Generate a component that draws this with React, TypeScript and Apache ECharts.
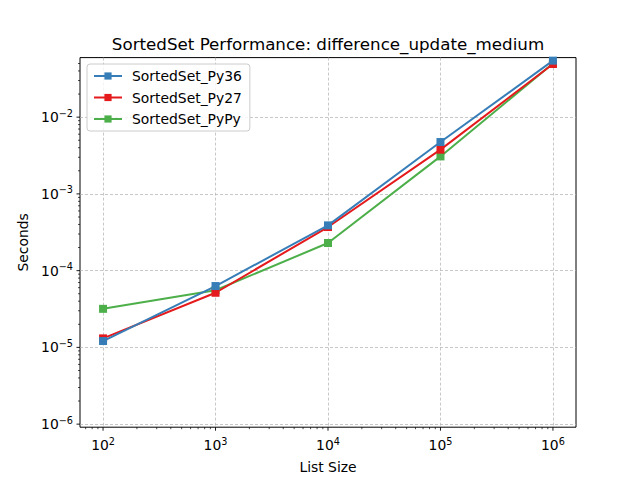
import React, { useEffect, useRef } from "react";
import * as echarts from "echarts";

// list sizes and timings (seconds)
const sizes = [100, 1000, 10000, 100000, 1000000];
const py36 = [1.21e-5, 6.3e-5, 3.89e-4, 4.74e-3, 5.45e-2];
const py27 = [1.31e-5, 5.15e-5, 3.7e-4, 3.77e-3, 4.93e-2];
const pypy = [3.18e-5, 5.55e-5, 2.29e-4, 3.08e-3, 5.0e-2];

const seriesNames = ["SortedSet_Py36", "SortedSet_Py27", "SortedSet_PyPy"];
const colors = ["#377eb8", "#e41a1c", "#4daf4a"];

const X_MIN = Math.pow(10, 1.795);
const X_MAX = Math.pow(10, 6.205);
const Y_MIN = Math.pow(10, -6.04);
const Y_MAX = Math.pow(10, -1.224);

// major decades shown on each axis
const xDecades = [2, 3, 4, 5, 6];
const yDecades = [-6, -5, -4, -3, -2];

const minorTicks = (lo: number, hi: number) => {
  const out: number[] = [];
  for (let e = Math.floor(Math.log10(lo)); e <= Math.ceil(Math.log10(hi)); e++) {
    for (let m = 2; m <= 9; m++) {
      const v = m * Math.pow(10, e);
      if (v >= lo && v <= hi) out.push(v);
    }
  }
  return out;
};

const FONT = "DejaVu Sans";
const GRID_COLOR = "#b0b0b0";
const edgeHidden = "rgba(0,0,0,0)";

const App: React.FC = () => {
  const chartRef = useRef<HTMLDivElement>(null);

  useEffect(() => {
    document.body.style.margin = "0";
    const chart = echarts.init(chartRef.current!, null, { renderer: "svg" });

    const supLabel = (v: number) => {
      const e = Math.round(Math.log10(v));
      return "{b|10}{s|" + String(e).replace("-", "\u2212") + "}";
    };
    const labelRich = {
      b: { fontSize: 13.9, fontFamily: FONT, color: "#000" },
      s: { fontSize: 9.7, fontFamily: FONT, color: "#000", padding: [0, 0, 8, 0] },
    };

    const xTickData = [
      ...xDecades.map((e) => [Math.pow(10, e), Y_MIN, 3.5]),
      ...minorTicks(X_MIN, X_MAX).map((v) => [v, Y_MIN, 2]),
    ];
    const yTickData = [
      ...yDecades.map((e) => [X_MIN, Math.pow(10, e), 3.5]),
      ...minorTicks(Y_MIN, Y_MAX).map((v) => [X_MIN, v, 2]),
    ];

    const gridLineColors = [edgeHidden, GRID_COLOR, GRID_COLOR, GRID_COLOR, GRID_COLOR, GRID_COLOR, edgeHidden];

    const lineSeries = [
      { name: seriesNames[2], data: pypy, color: colors[2] },
      { name: seriesNames[1], data: py27, color: colors[1] },
      { name: seriesNames[0], data: py36, color: colors[0] },
    ].map((s) => ({
      name: s.name,
      type: "line",
      data: sizes.map((x, i) => [x, s.data[i]]),
      symbol: "rect",
      symbolSize: 8,
      color: s.color,
      lineStyle: { width: 2, color: s.color },
      itemStyle: { color: s.color },
      z: 3,
    }));

    const options = {
      animation: false,
      backgroundColor: "#fff",
      textStyle: { fontFamily: FONT },
      title: {
        text: "SortedSet Performance: difference_update_medium",
        left: 323,
        top: 30,
        textAlign: "center",
        textStyle: { fontSize: 16.7, fontWeight: "normal", color: "#000", fontFamily: FONT },
      },
      legend: {
        orient: "vertical",
        left: 87,
        top: 64,
        data: seriesNames,
        itemWidth: 28,
        itemHeight: 9,
        itemGap: 7.5,
        padding: [5, 8, 5, 6],
        backgroundColor: "rgba(255,255,255,0.8)",
        borderColor: "#cccccc",
        borderWidth: 1,
        borderRadius: 3,
        textStyle: { fontSize: 13.9, color: "#000", fontFamily: FONT, padding: [0, 0, 0, 5] },
      },
      grid: {
        left: 80,
        top: 57.6,
        width: 496,
        height: 369.6,
        containLabel: false,
        outerBoundsMode: "none",
        show: true,
        borderColor: "#000",
        borderWidth: 1,
        backgroundColor: "transparent",
      },
      xAxis: {
        type: "log",
        logBase: 10,
        min: X_MIN,
        max: X_MAX,
        name: "List Size",
        nameLocation: "middle",
        nameGap: 33,
        nameTextStyle: { fontSize: 13.9, color: "#000", fontFamily: FONT },
        axisLine: { show: false },
        axisTick: { show: false },
        axisLabel: {
          showMinLabel: false,
          showMaxLabel: false,
          margin: 9,
          formatter: supLabel,
          rich: labelRich,
        },
        splitLine: {
          show: true,
          lineStyle: { color: gridLineColors, width: 0.7, type: [3, 2] },
        },
      },
      yAxis: {
        type: "log",
        logBase: 10,
        min: Y_MIN,
        max: Y_MAX,
        name: "Seconds",
        nameLocation: "middle",
        nameGap: 50,
        nameTextStyle: { fontSize: 13.9, color: "#000", fontFamily: FONT },
        axisLine: { show: false },
        axisTick: { show: false },
        axisLabel: {
          showMinLabel: false,
          showMaxLabel: false,
          margin: 7,
          formatter: supLabel,
          rich: labelRich,
        },
        splitLine: {
          show: true,
          lineStyle: { color: gridLineColors, width: 0.7, type: [3, 2] },
        },
      },
      series: [
        ...lineSeries,
        {
          type: "custom",
          name: "xticks",
          clip: false,
          silent: true,
          z: 5,
          data: xTickData,
          renderItem: (_p: any, api: any) => {
            const pt = api.coord([api.value(0), api.value(1)]);
            const len = api.value(2);
            return {
              type: "line",
              shape: { x1: pt[0], y1: pt[1], x2: pt[0], y2: pt[1] + len },
              style: { stroke: "#000", lineWidth: len > 3 ? 0.9 : 0.7 },
            };
          },
        },
        {
          type: "custom",
          name: "yticks",
          clip: false,
          silent: true,
          z: 5,
          data: yTickData,
          renderItem: (_p: any, api: any) => {
            const pt = api.coord([api.value(0), api.value(1)]);
            const len = api.value(2);
            return {
              type: "line",
              shape: { x1: pt[0] - len, y1: pt[1], x2: pt[0], y2: pt[1] },
              style: { stroke: "#000", lineWidth: len > 3 ? 0.9 : 0.7 },
            };
          },
        },
      ],
    };

    chart.setOption(options as any);
    return () => {
      chart.dispose();
    };
  }, []);

  return <div ref={chartRef} style={{ width: 640, height: 480 }}></div>;
};

export default App;
